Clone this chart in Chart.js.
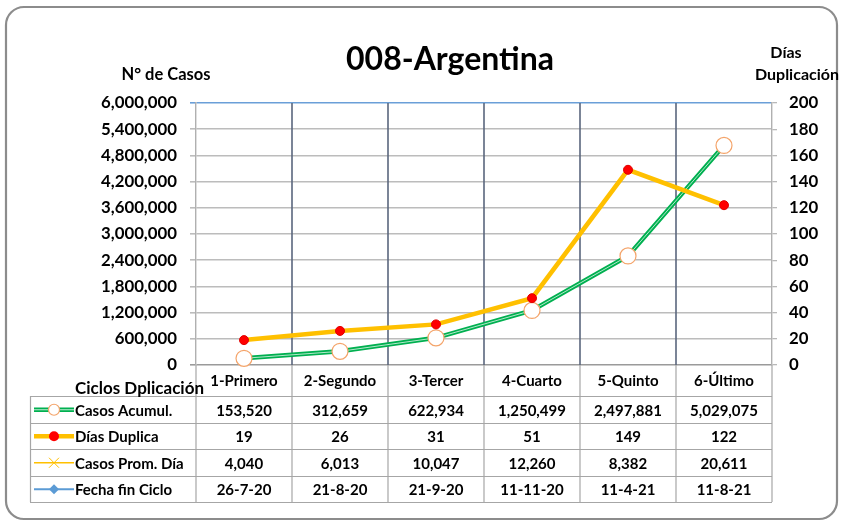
<!DOCTYPE html>
<html>
<head>
<meta charset="utf-8">
<script src="https://cdn.jsdelivr.net/npm/chart.js@4.4.1/dist/chart.umd.min.js"></script>
<style>
html,body{margin:0;padding:0;background:#fff;overflow:hidden;}
canvas{display:block;}
</style>
</head>
<body>
<canvas id="c" width="841" height="522"></canvas>
<script>
// ---- data ----
const categories = ['1-Primero', '2-Segundo', '3-Tercer', '4-Cuarto', '5-Quinto', '6-Último'];
const casosAcumul = [153520, 312659, 622934, 1250499, 2497881, 5029075];
const diasDuplica = [19, 26, 31, 51, 149, 122];
const casosPromDia = [4040, 6013, 10047, 12260, 8382, 20611];
const fechaFinCiclo = ['26-7-20', '21-8-20', '21-9-20', '11-11-20', '11-4-21', '11-8-21'];
const seriesNames = ['Casos Acumul.', 'Días Duplica', 'Casos Prom. Día', 'Fecha fin Ciclo'];
const chartTitle = '008-Argentina';
const leftAxisTitle = 'N° de Casos';
const rightAxisTitle = ['Días', 'Duplicación'];
const tableTitle = 'Ciclos Dplicación';

const FONT = 'Lato, "Open Sans", sans-serif';
const GREEN = '#00b050', YELLOW = '#ffc000', RED = '#ff0000', BLUE = '#5b9bd5';

const fmt = v => typeof v === 'number' ? v.toLocaleString('en-US') : v;

const decorPlugin = {
  id: 'decor',
  beforeDraw(chart) {
    const ctx = chart.ctx;
    ctx.save();
    ctx.fillStyle = '#fff';
    ctx.fillRect(0, 0, chart.width, chart.height);
    const x = 6, y = 7, w = 831, h = 512, r = 18;
    ctx.beginPath();
    ctx.moveTo(x + r, y);
    ctx.arcTo(x + w, y, x + w, y + h, r);
    ctx.arcTo(x + w, y + h, x, y + h, r);
    ctx.arcTo(x, y + h, x, y, r);
    ctx.arcTo(x, y, x + w, y, r);
    ctx.closePath();
    ctx.strokeStyle = '#8c8c8c';
    ctx.lineWidth = 2.2;
    ctx.stroke();
    ctx.restore();
  },
  beforeDatasetsDraw(chart) {
    const ctx = chart.ctx, a = chart.chartArea, xs = chart.scales.x;
    const half = (xs.getPixelForValue(1) - xs.getPixelForValue(0)) / 2;
    ctx.save();
    ctx.lineWidth = 1.6;
    ctx.strokeStyle = '#5a667d';
    for (let i = 1; i < categories.length; i++) {
      const px = Math.round(xs.getPixelForValue(i) - half);
      ctx.beginPath();
      ctx.moveTo(px, a.top);
      ctx.lineTo(px, a.bottom);
      ctx.stroke();
    }
    ctx.restore();
  },
  afterDraw(chart) {
    const ctx = chart.ctx, a = chart.chartArea, xs = chart.scales.x;
    const half = (xs.getPixelForValue(1) - xs.getPixelForValue(0)) / 2;
    ctx.save();
    ctx.fillStyle = '#000';
    ctx.font = 'bold 32px ' + FONT;
    ctx.textAlign = 'center';
    ctx.textBaseline = 'middle';
    ctx.fillText(chartTitle, 450, 60);
    ctx.font = 'bold 16.5px ' + FONT;
    ctx.fillText(leftAxisTitle, 166, 75);
    ctx.font = 'bold 16px ' + FONT;
    ctx.fillText(rightAxisTitle[0], 786, 53);
    ctx.textAlign = 'right';
    ctx.fillText(rightAxisTitle[1], 839, 75);

    // table
    const headTop = a.bottom, rowTop = 396, rowH = 26.5, nRows = 4;
    const tLeft = 30, tRight = a.right;
    const tBottom = rowTop + rowH * nRows;
    ctx.strokeStyle = '#a6a6a6';
    ctx.lineWidth = 1.2;
    for (let i = 0; i <= nRows; i++) {
      const py = Math.round(rowTop + i * rowH) + 0.5;
      ctx.beginPath(); ctx.moveTo(tLeft, py); ctx.lineTo(tRight, py); ctx.stroke();
    }
    ctx.beginPath(); ctx.moveTo(tLeft + 0.5, rowTop); ctx.lineTo(tLeft + 0.5, tBottom); ctx.stroke();
    for (let i = 0; i <= categories.length; i++) {
      const px = Math.round(xs.getPixelForValue(i) - half);
      ctx.beginPath(); ctx.moveTo(px, headTop); ctx.lineTo(px, tBottom); ctx.stroke();
    }
    ctx.fillStyle = '#000';
    ctx.font = 'bold 15px ' + FONT;
    ctx.textAlign = 'center';
    categories.forEach((c, i) => ctx.fillText(c, xs.getPixelForValue(i), (headTop + rowTop) / 2 + 1));
    ctx.font = 'bold 17px ' + FONT;
    ctx.textAlign = 'left';
    ctx.fillText(tableTitle, 75, 389);
    const rows = [casosAcumul, diasDuplica, casosPromDia, fechaFinCiclo];
    rows.forEach((vals, r) => {
      const cy = rowTop + rowH * r + rowH / 2 + 0.5;
      drawIcon(ctx, r, 34, 74, cy);
      ctx.fillStyle = '#000';
      ctx.font = 'bold 15px ' + FONT;
      ctx.textAlign = 'left';
      ctx.fillText(seriesNames[r], 75, cy + 1);
      ctx.textAlign = 'center';
      vals.forEach((v, i) => ctx.fillText(fmt(v), xs.getPixelForValue(i), cy + 1));
    });
    ctx.restore();
  }
};

function drawIcon(ctx, r, x0, x1, cy) {
  const cx = (x0 + x1) / 2;
  ctx.save();
  ctx.lineCap = 'butt';
  if (r === 0) {
    ctx.strokeStyle = GREEN; ctx.lineWidth = 4.5;
    ctx.beginPath(); ctx.moveTo(x0, cy); ctx.lineTo(x1, cy); ctx.stroke();
    ctx.strokeStyle = 'rgba(255,255,255,0.75)'; ctx.lineWidth = 1;
    ctx.beginPath(); ctx.moveTo(x0, cy); ctx.lineTo(x1, cy); ctx.stroke();
    ctx.fillStyle = '#fff'; ctx.strokeStyle = '#f4a46a'; ctx.lineWidth = 1.2;
    ctx.beginPath(); ctx.arc(cx, cy, 5.5, 0, Math.PI * 2); ctx.fill(); ctx.stroke();
  } else if (r === 1) {
    ctx.strokeStyle = YELLOW; ctx.lineWidth = 4.5;
    ctx.beginPath(); ctx.moveTo(x0, cy); ctx.lineTo(x1, cy); ctx.stroke();
    ctx.fillStyle = RED;
    ctx.beginPath(); ctx.arc(cx, cy, 5, 0, Math.PI * 2); ctx.fill();
  } else if (r === 2) {
    ctx.strokeStyle = YELLOW; ctx.lineWidth = 1.5;
    ctx.beginPath(); ctx.moveTo(x0, cy); ctx.lineTo(x1, cy); ctx.stroke();
    ctx.lineWidth = 1;
    ctx.beginPath();
    ctx.moveTo(cx - 5, cy - 5); ctx.lineTo(cx + 5, cy + 5);
    ctx.moveTo(cx + 5, cy - 5); ctx.lineTo(cx - 5, cy + 5);
    ctx.stroke();
  } else {
    ctx.strokeStyle = BLUE; ctx.lineWidth = 2;
    ctx.beginPath(); ctx.moveTo(x0, cy); ctx.lineTo(x1, cy); ctx.stroke();
    ctx.fillStyle = BLUE;
    ctx.beginPath();
    ctx.moveTo(cx, cy - 5); ctx.lineTo(cx + 5, cy); ctx.lineTo(cx, cy + 5); ctx.lineTo(cx - 5, cy);
    ctx.closePath(); ctx.fill();
  }
  ctx.restore();
}

function build() {
  new Chart(document.getElementById('c'), {
    type: 'line',
    data: {
      labels: categories,
      datasets: [
        {
          label: seriesNames[1], data: diasDuplica, yAxisID: 'y2', order: 1,
          borderColor: YELLOW, borderWidth: 4.5, pointRadius: 4.5,
          pointBackgroundColor: RED, pointBorderColor: '#e00000', pointBorderWidth: 1,
          tension: 0, clip: false
        },
        {
          label: seriesNames[0], data: casosAcumul, yAxisID: 'y', order: 2,
          borderColor: 'rgba(255,255,255,0.7)', borderWidth: 1, pointRadius: 8,
          pointBackgroundColor: '#fff', pointBorderColor: '#f4a46a', pointBorderWidth: 1.2,
          tension: 0, clip: false
        },
        {
          label: seriesNames[0] + ' base', data: casosAcumul, yAxisID: 'y', order: 3,
          borderColor: GREEN, borderWidth: 4.5, pointRadius: 0,
          tension: 0, clip: false
        }
      ]
    },
    options: {
      responsive: false,
      animation: false,
      devicePixelRatio: 1,
      layout: { padding: { top: 103, bottom: 157, left: 0, right: 0 } },
      plugins: { legend: { display: false }, title: { display: false }, tooltip: { enabled: false } },
      scales: {
        x: { type: 'category', offset: true, display: false },
        y: {
          position: 'left', min: 0, max: 6000000,
          afterFit(s) { s.width = 196; },
          ticks: {
            stepSize: 600000, color: '#000', padding: 13,
            font: { family: FONT, size: 16.8, weight: 'bold' },
            callback: v => v.toLocaleString('en-US')
          },
          grid: {
            color: c => (c.tick && c.tick.value === 6000000) ? '#6a9fd8' : (c.tick && c.tick.value === 0 ? '#9a9a9a' : '#bcbcbc'),
            lineWidth: 1.6, tickLength: 6, drawTicks: true
          },
          border: { display: true, color: '#b0b0b0', width: 1.4 }
        },
        y2: {
          position: 'right', min: 0, max: 200,
          afterFit(s) { s.width = 69; },
          ticks: {
            stepSize: 20, color: '#000', padding: 12,
            font: { family: FONT, size: 16.8, weight: 'bold' }
          },
          grid: { drawOnChartArea: false, color: '#b8b8b8', tickLength: 5, lineWidth: 1.3 },
          border: { display: true, color: '#b0b0b0', width: 1.4 }
        }
      }
    },
    plugins: [decorPlugin]
  });
}

Promise.all([
  document.fonts.load('bold 16px Lato'),
  document.fonts.load('bold 32px Lato')
]).then(build, build);
</script>
</body>
</html>
